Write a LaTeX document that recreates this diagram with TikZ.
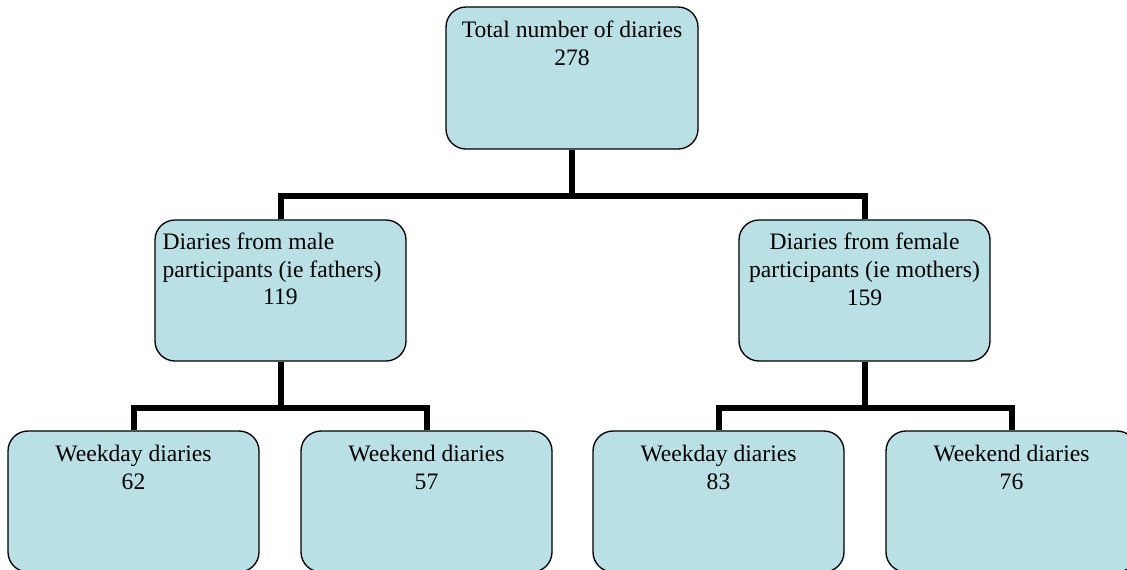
\documentclass[tikz,border=0pt]{standalone}
\usepackage{fontspec}
\setmainfont{Liberation Serif}
\definecolor{boxfill}{HTML}{B9E0E4}
\begin{document}
\begin{tikzpicture}[x=0.75pt,y=-0.75pt,
  box/.style={draw=black, line width=1pt, fill=boxfill, rounded corners=15pt,
    minimum width=188.25pt, minimum height=105.75pt, inner sep=0pt},
  conn/.style={line width=4.5pt, draw=black, line join=miter},
  txt/.style={inner sep=0pt, font=\fontsize{17.7}{21}\selectfont, align=center, anchor=north}]
\useasboundingbox (0,0) rectangle (1127,569);
\clip (0,0) rectangle (1127,569);
% boxes
\node[box, minimum width=189pt, minimum height=106.5pt] (top) at (572,78) {};
\node[box] (ml) at (280.5,290.5) {};
\node[box] (mr) at (864.5,290.5) {};
\node[box] (b1) at (133.5,501.5) {};
\node[box] (b2) at (426.5,501.5) {};
\node[box] (b3) at (718.5,501.5) {};
\node[box] (b4) at (1011.5,501.5) {};
% connectors
\coordinate (bus0) at (0,196);
\coordinate (bus1) at (0,408);
\draw[conn] (top.south) -- (top.south |- bus0) -| (ml.north);
\draw[conn] (top.south |- bus0) -| (mr.north);
\draw[conn] (ml.south) -- (ml.south |- bus1) -| (b1.north);
\draw[conn] (ml.south |- bus1) -| (b2.north);
\draw[conn] (mr.south) -- (mr.south |- bus1) -| (b3.north);
\draw[conn] (mr.south |- bus1) -| (b4.north);
% texts
\node[txt] (t0) at ([yshift=-11pt]top.north) {Total number of diaries\\278};
\node[txt, align=left, anchor=north west] (t1) at ([xshift=6pt,yshift=-9.65pt]ml.north west) {Diaries from male\\participants (ie fathers)};
\node[txt, anchor=base] (t1n) at ([yshift=-63.75pt]ml.north) {119};
\node[txt] (t2) at ([yshift=-9.65pt]mr.north) {Diaries from female\\participants (ie mothers)\\159};
\node[txt] (t3) at ([yshift=-11pt]b1.north) {Weekday diaries\\62};
\node[txt] (t4) at ([yshift=-11pt]b2.north) {Weekend diaries\\57};
\node[txt] (t5) at ([yshift=-11pt]b3.north) {Weekday diaries\\83};
\node[txt] (t6) at ([yshift=-11pt]b4.north) {Weekend diaries\\76};
\end{tikzpicture}
\end{document}
